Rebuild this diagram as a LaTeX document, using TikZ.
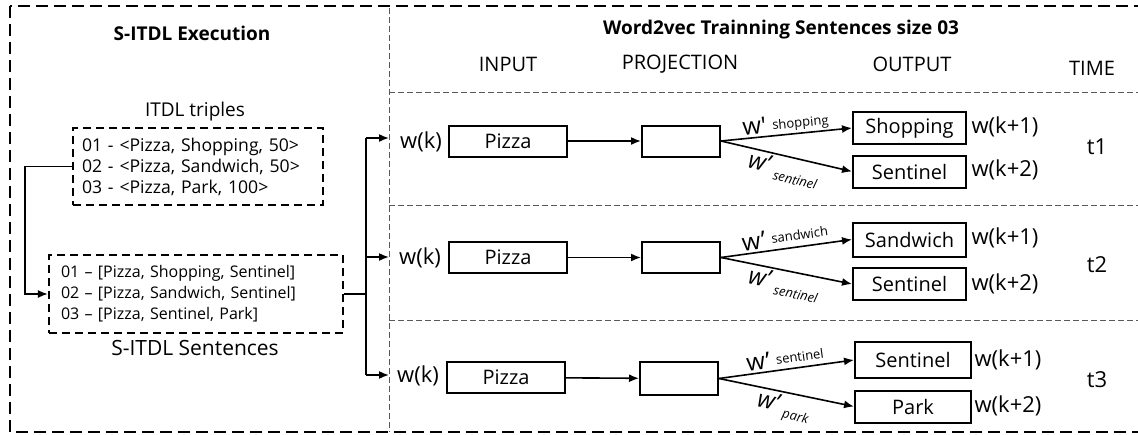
\documentclass[tikz,border=0pt]{standalone}
\usepackage{fontspec}
\setmainfont{Open Sans}
\usetikzlibrary{arrows.meta}

\begin{document}
\begin{tikzpicture}[x=0.5pt,y=-0.5pt,
    font=\fontsize{10}{12}\selectfont,
    word node/.style={draw,line width=1pt,minimum width=59pt,minimum height=15.5pt,inner sep=1pt},
    proj node/.style={draw,line width=1pt,minimum width=39pt,minimum height=15.5pt,inner sep=1pt},
    out node/.style={draw,line width=1pt,minimum width=56.5pt,minimum height=16pt,inner sep=1pt},
    list node/.style={draw,line width=1.1pt,dash pattern=on 4pt off 2.5pt,align=left,
                      font=\fontsize{8}{10.5}\selectfont},
    conn/.style={line width=0.8pt,-{Latex[length=5pt,width=4pt]}},
    sep line/.style={gray!70!black,line width=0.4pt,dash pattern=on 3pt off 1.5pt},
    wlab/.style={font=\fontsize{11}{12}\selectfont,inner sep=1pt},
    up lab/.style={above,sloped,pos=0.5,inner sep=1pt},
    dn lab/.style={below,sloped,pos=0.5,inner sep=1pt}
  ]
  \useasboundingbox (0,0) rectangle (1138,434);

  % frames
  \draw[line width=0.7pt,dash pattern=on 6pt off 3pt] (10,6) rectangle (1142,432);
  \draw[sep line] (389,8) -- (389,432);
  \draw[sep line] (389,92) -- (1138,92);
  \draw[sep line] (389,205) -- (1138,205);
  \draw[sep line] (389,320) -- (1138,320);

  % left part
  \node[font=\fontsize{9.5}{11}\selectfont\bfseries] (exec) at (192,33) {S-ITDL Execution};
  \node[font=\fontsize{9.5}{11}\selectfont] (tlab) at (195,112) {ITDL triples};
  \node[list node,font=\fontsize{8.8}{10.5}\selectfont,text width=116pt,inner xsep=4.5pt,minimum height=38.5pt] (trip) at (198,166.5)
    {01 - <Pizza, Shopping, 50>\\02 - <Pizza, Sandwich, 50>\\03 - <Pizza, Park, 100>};
  \node[list node,text width=135pt,inner xsep=6pt,minimum height=39pt] (sent) at (196,294)
    {01 – [Pizza, Shopping, Sentinel]\\02 – [Pizza, Sandwich, Sentinel]\\03 – [Pizza, Sentinel, Park]};
  \node[font=\fontsize{10.5}{12}\selectfont] (slab) at (195,348) {S-ITDL Sentences};

  \coordinate (j) at (366,294);
  \coordinate (e1) at (389,138);
  \coordinate (e2) at (389,257);
  \coordinate (e3) at (389,375);

  \draw[conn] (trip.west) -- ++(-47,0) |- (sent.west);
  \draw[line width=0.8pt] (sent.east) -- (j);
  \draw[line width=0.8pt] (366,138) -- (366,375);
  \draw[conn] (366,138) -- (e1);
  \draw[conn] (366,257) -- (e2);
  \draw[conn] (366,375) -- (e3);

  % right part, headings
  \node[font=\fontsize{9.5}{11}\selectfont\bfseries] (w2v) at (781,30) {Word2vec Trainning Sentences size 03};
  \node (hin) at (508,64) {INPUT};
  \node (hpr) at (680,64) {PROJECTION};
  \node (hout) at (912,64) {OUTPUT};
  \node (htime) at (1092,68) {TIME};

  % row t1
  \node[wlab] (wk1) at (421,142) {w(k)};
  \node[word node] (pz1) at (508,141) {Pizza};
  \node[proj node] (pr1) at (681,141) {};
  \node[out node] (o1a) at (909.5,128) {Shopping};
  \node[out node] (o1b) at (909.5,171.5) {Sentinel};
  \node[wlab] (n1a) at (1005,127) {w(k+1)};
  \node[wlab] (n1b) at (1005,170) {w(k+2)};
  \node[wlab] (t1) at (1097,147) {t1};

  % row t2
  \node[wlab] (wk2) at (420,258) {w(k)};
  \node[word node] (pz2) at (508,257.5) {Pizza};
  \node[proj node] (pr2) at (681,257.5) {};
  \node[out node,minimum height=17pt] (o2a) at (909.5,239.5) {Sandwich};
  \node[out node] (o2b) at (909.5,284) {Sentinel};
  \node[wlab] (n2a) at (1005,238) {w(k+1)};
  \node[wlab] (n2b) at (1005,284) {w(k+2)};
  \node[wlab] (t2) at (1097,265) {t2};

  % row t3
  \node[wlab] (wk3) at (418,376) {w(k)};
  \node[word node] (pz3) at (506,377.5) {Pizza};
  \node[proj node,minimum height=16.5pt] (pr3) at (679,378.5) {};
  \node[out node,minimum width=58pt,minimum height=18pt] (o3a) at (913,360) {Sentinel};
  \node[out node,minimum width=58pt] (o3b) at (913,406.5) {Park};
  \node[wlab] (n3a) at (1008,360) {w(k+1)};
  \node[wlab] (n3b) at (1008,406) {w(k+2)};
  \node[wlab] (t3) at (1097,380) {t3};

  \path[conn]
   (pz1) edge (pr1)
   (pr1.east) edge node[up lab] {\fontsize{12}{12}\selectfont w\textquotesingle\hspace{3pt}\raisebox{1.5pt}{\fontsize{6.5}{7}\selectfont shopping}} (o1a.west)
   (pr1.east) edge node[dn lab] {\fontsize{12}{12}\selectfont\itshape w’\hspace{3pt}\raisebox{-3pt}[0pt][0pt]{\fontsize{6.5}{7}\selectfont sentinel}} (o1b.west)
   (pz2) edge (pr2)
   (pr2.east) edge node[up lab] {\fontsize{12}{12}\selectfont w’\hspace{3pt}\raisebox{2pt}{\fontsize{6.5}{7}\selectfont sandwich}} (o2a.west)
   (pr2.east) edge node[dn lab] {\fontsize{12}{12}\selectfont\itshape w’\hspace{3pt}\raisebox{-3pt}[0pt][0pt]{\fontsize{6.5}{7}\selectfont sentinel}} (o2b.west)
   (pz3) edge (pr3)
   (pr3.east) edge node[up lab] {\fontsize{12}{12}\selectfont w’\hspace{3pt}\raisebox{1.5pt}{\fontsize{6.5}{7}\selectfont sentinel}} (o3a.west)
   (pr3.east) edge node[dn lab] {\fontsize{12}{12}\selectfont\itshape w’\hspace{3pt}\raisebox{-3pt}[0pt][0pt]{\fontsize{6.5}{7}\selectfont park}} (o3b.west);
 \end{tikzpicture}
\end{document}
